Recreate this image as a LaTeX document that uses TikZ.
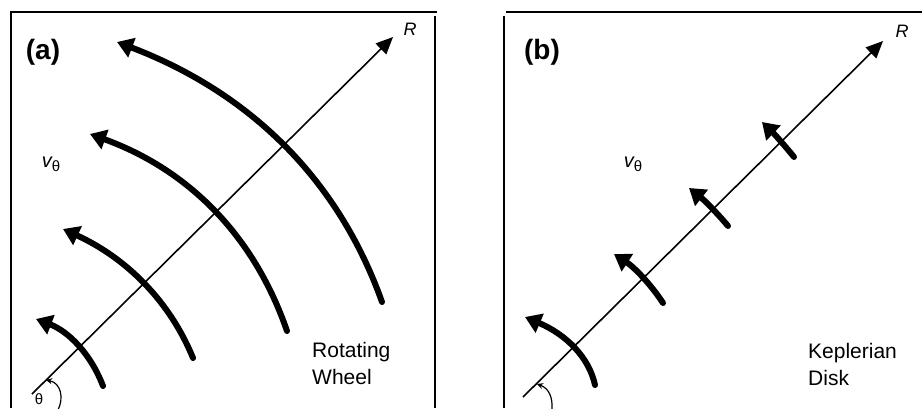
\documentclass[tikz,border=0pt]{standalone}
\usepackage{fontspec}
\setmainfont{Liberation Sans}
\usepackage{tikz}
\usetikzlibrary{arrows.meta}

\tikzset{
  frame/.style={line width=2pt},
  axis/.style={line width=1.6pt, -{Triangle[length=17pt,width=15pt]}},
  flow/.style={line width=6pt, line cap=round, -{Triangle[length=16pt,width=20pt]}},
  angarc/.style={line width=1.2pt, -{Stealth[length=6pt,width=6pt]}},
  lbl/.style={font=\fontsize{21}{27}\selectfont, align=left, anchor=north west, inner sep=0pt},
  panel/.style={font=\fontsize{28}{28}\selectfont\bfseries, inner sep=0pt},
  vel/.style={font=\fontsize{20}{20}\selectfont\itshape, inner sep=0pt},
}
\newcommand{\vtheta}{v\raisebox{-4pt}{\fontsize{15}{15}\selectfont\upshape θ}}

\begin{document}
\begin{tikzpicture}[x=1pt, y=-1pt]
\useasboundingbox (0,0) rectangle (922,408);
% Frames
\draw[frame] (11,408) -- (11,12) -- (437,12);
\draw[frame] (435,16) -- (435,408);
\draw[frame] (506,12) -- (922,12);
\draw[frame] (504,16) -- (504,408);
% Panel (a): rotating wheel
\coordinate (oa) at (32,394);
\coordinate (ra) at (393,37);
\draw[axis] (oa) -- (ra);
\node[font=\fontsize{18}{18}\selectfont\itshape] at (410,29) {R};
\node[panel] (pa) at (43,52) {(a)};
\node[vel] (va) at (51,164) {\vtheta};
\draw[flow] (103,386) .. controls (90.7,353.7) and (68.3,331.3) .. (36,319);
\draw[flow] (193,358) .. controls (169.7,301) and (126.3,258) .. (63,229);
\draw[flow] (287,331) .. controls (254,235.3) and (188.3,169.7) .. (90,134);
\draw[flow] (382,302) .. controls (338.3,179.3) and (250,92.7) .. (117,42);
\draw[angarc] (58,410) .. controls (64,398) and (61,383) .. (46,380);
\node[font=\fontsize{15}{15}\selectfont] (tha) at (39,399) {θ};
\node[lbl] (wheel) at (312,342) {Rotating\\Wheel};
% Panel (b): Keplerian disk
\coordinate (ob) at (523,397);
\coordinate (rb) at (883,41);
\draw[axis] (ob) -- (rb);
\node[font=\fontsize{18}{18}\selectfont\itshape] at (902,31) {R};
\node[panel] (pb) at (542,52) {(b)};
\node[vel] (vb) at (633,164) {\vtheta};
\draw[flow] (595,385) .. controls (589,357) and (565.7,334.3) .. (525,317);
\draw[flow] (663,303) .. controls (650.1,283.3) and (633.7,266.9) .. (614,254);
\draw[flow] (728,226) .. controls (716.3,212) and (703.3,199.3) .. (689,188);
\draw[flow] (794,157) .. controls (784,144.6) and (773.3,132.9) .. (762,122);
\draw[angarc] (552,410) .. controls (553,396) and (548,388) .. (537,384);
\node[lbl] (disk) at (808,343) {Keplerian\\Disk};
\end{tikzpicture}
\end{document}
